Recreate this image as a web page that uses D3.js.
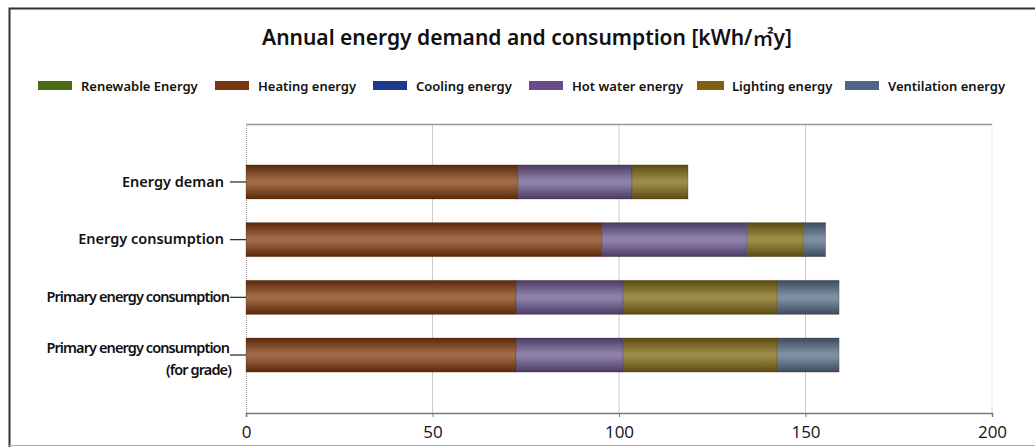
<!DOCTYPE html>
<html>
<head>
<meta charset="utf-8">
<script src="https://cdn.jsdelivr.net/npm/d3@7"></script>
<style>
  body { margin: 0; background: #fff; }
  text { font-family: "Noto Sans", "Open Sans", sans-serif; fill: #111; }
</style>
</head>
<body>
<div id="chart"></div>
<script>
// Size constants
var totWidth = 1035,
    totHeight = 447;
var margins = {top: 124, right: 43, bottom: 34, left: 246};
var width = totWidth - margins.left - margins.right,
    height = totHeight - margins.top - margins.bottom;

// Data (kWh/m2y)
var categories = ["Energy deman", "Energy consumption", "Primary energy consumption", "Primary energy consumption (for grade)"];
var seriesNames = ["Renewable Energy", "Heating energy", "Cooling energy", "Hot water energy", "Lighting energy", "Ventilation energy"];
var renewable   = [0, 0, 0, 0];
var heating     = [73, 95.4, 72.4, 72.4];
var cooling     = [0, 0, 0, 0];
var hotWater    = [30.5, 39, 28.7, 28.7];
var lighting    = [15, 15, 41.3, 41.3];
var ventilation = [0, 6, 16.6, 16.6];
var xTicks = [0, 50, 100, 150, 200];

var legendColors = ["#4b6b14", "#7a3612", "#1f3a8c", "#6a4c8a", "#7e6212", "#4f6682"];
// bar shading: [edge, middle]
var barShades = [["#3b5a0c", "#6e8f34"], ["#5a280a", "#a06a46"], ["#15286a", "#4a64b0"],
                 ["#4a3b64", "#8e81a8"], ["#5a4a10", "#9c8c48"], ["#3c4b5e", "#7e8fa2"]];

var table = categories.map(function(c, i) {
  return {cat: c, "Renewable Energy": renewable[i], "Heating energy": heating[i],
          "Cooling energy": cooling[i], "Hot water energy": hotWater[i],
          "Lighting energy": lighting[i], "Ventilation energy": ventilation[i]};
});

var svg = d3.select("#chart").append("svg")
    .attr("width", totWidth)
    .attr("height", totHeight);

// outer frame
svg.append("path")
  .attr("d", "M9.5,447 L9.5,8.5 L1035,8.5")
  .attr("fill", "none").attr("stroke", "#333").attr("stroke-width", 2);
svg.append("line")
  .attr("x1", 9).attr("x2", 1035).attr("y1", 445.5).attr("y2", 445.5)
  .attr("stroke", "#aaa").attr("stroke-width", 1);

// gradients
var defs = svg.append("defs");
seriesNames.forEach(function(s, i) {
  var g = defs.append("linearGradient")
    .attr("id", "grad" + i)
    .attr("x1", 0).attr("x2", 0).attr("y1", 0).attr("y2", 1);
  g.append("stop").attr("offset", "0%").attr("stop-color", barShades[i][0]);
  g.append("stop").attr("offset", "45%").attr("stop-color", barShades[i][1]);
  g.append("stop").attr("offset", "55%").attr("stop-color", barShades[i][1]);
  g.append("stop").attr("offset", "100%").attr("stop-color", barShades[i][0]);
});

// title
var title = svg.append("text")
  .attr("x", 527)
  .attr("y", 45)
  .attr("text-anchor", "middle")
  .style("font-size", "21px")
  .style("font-weight", "600");
title.append("tspan").text("Annual energy demand and consumption [kWh/");
title.append("tspan").style("font-family", "'Noto Sans CJK KR', sans-serif").style("font-weight", "500").text("㎡");
title.append("tspan").text("y]");

// legend
var legendX = [38, 215, 373, 529, 697, 845];
var legend = svg.selectAll(".legend")
  .data(seriesNames)
  .enter().append("g")
    .attr("transform", function(d, i) { return "translate(" + legendX[i] + ",81)"; });
legend.append("rect")
  .attr("width", function(d, i) { return i === 4 ? 27 : 34; })
  .attr("height", 9)
  .attr("fill", function(d, i) { return legendColors[i]; });
legend.append("text")
  .attr("x", function(d, i) { return i === 4 ? 35 : 43; })
  .attr("y", 10)
  .style("font-size", "13px")
  .style("font-weight", "600")
  .text(function(d) { return d; });

var g = svg.append("g")
  .attr("transform", "translate(" + margins.left + "," + margins.top + ")");

var x = d3.scaleLinear()
  .domain([0, 200])
  .range([0, width]);

var y = d3.scaleBand()
  .domain(categories)
  .range([0, height])
  .paddingInner(0.41)
  .paddingOuter(0.71);

// grid lines
g.selectAll(".grid")
  .data(xTicks.slice(1))
  .enter().append("line")
    .attr("x1", function(d) { return x(d); })
    .attr("x2", function(d) { return x(d); })
    .attr("y1", 0).attr("y2", height)
    .attr("stroke", "#ccc")
    .attr("stroke-dasharray", function(d) { return d === 200 ? "1,1" : null; });

// plot border: top line, left dotted
g.append("line").attr("x1", 0).attr("x2", width).attr("y1", 0.5).attr("y2", 0.5)
  .attr("stroke", "#999").attr("stroke-width", 1.5);
g.append("line").attr("x1", 0.5).attr("x2", 0.5).attr("y1", 0).attr("y2", height)
  .attr("stroke", "#999").attr("stroke-dasharray", "1,1");

// x axis
var xAxis = g.append("g")
  .attr("transform", "translate(0," + height + ")")
  .call(d3.axisBottom(x).tickValues(xTicks).tickSize(4).tickPadding(9));
xAxis.select(".domain").attr("stroke", "#777").attr("stroke-width", 1.5);
xAxis.selectAll(".tick line").attr("stroke", "#777");
xAxis.selectAll(".tick text")
  .style("font-size", "17px")
  .style("font-family", "'Open Sans', sans-serif")
  .attr("fill", "#222");

// y axis labels and ticks
var yAxis = g.append("g")
  .call(d3.axisLeft(y).tickSize(16).tickPadding(6).tickFormat(""));
yAxis.select(".domain").remove();
yAxis.selectAll(".tick line").attr("stroke", "#222").attr("stroke-width", 1.2);

yAxis.selectAll(".tick").each(function(d, i) {
  var t = d3.select(this).append("text")
    .attr("text-anchor", "end")
    .attr("fill", "#111")
    .style("font-size", "14.5px")
    .style("font-weight", "600");
  if (i < 2) {
    t.attr("x", -22).attr("dy", "0.32em").text(d);
  } else if (i === 2) {
    t.attr("x", -17).attr("dy", "0.32em").attr("letter-spacing", "-0.9").text(d);
  } else {
    t.attr("x", -17).attr("letter-spacing", "-0.9");
    t.append("tspan").attr("x", -17).attr("y", -2).text("Primary energy consumption");
    t.append("tspan").attr("x", -15).attr("y", 20).text("(for grade)");
  }
});

// stacked bars
var stackedData = d3.stack().keys(seriesNames)(table);

var layers = g.selectAll(".layer")
  .data(stackedData)
  .enter().append("g")
    .attr("fill", function(d, i) { return "url(#grad" + i + ")"; });

layers.selectAll("rect")
  .data(function(d) { return d.filter(function(p) { return p[1] - p[0] > 0; }); })
  .enter().append("rect")
    .attr("x", function(d) { return x(d[0]); })
    .attr("y", function(d) { return y(d.data.cat); })
    .attr("width", function(d) { return x(d[1]) - x(d[0]); })
    .attr("height", y.bandwidth())
    .attr("stroke", "rgba(60,40,20,0.35)")
    .attr("stroke-width", 0.8);
</script>
</body>
</html>
